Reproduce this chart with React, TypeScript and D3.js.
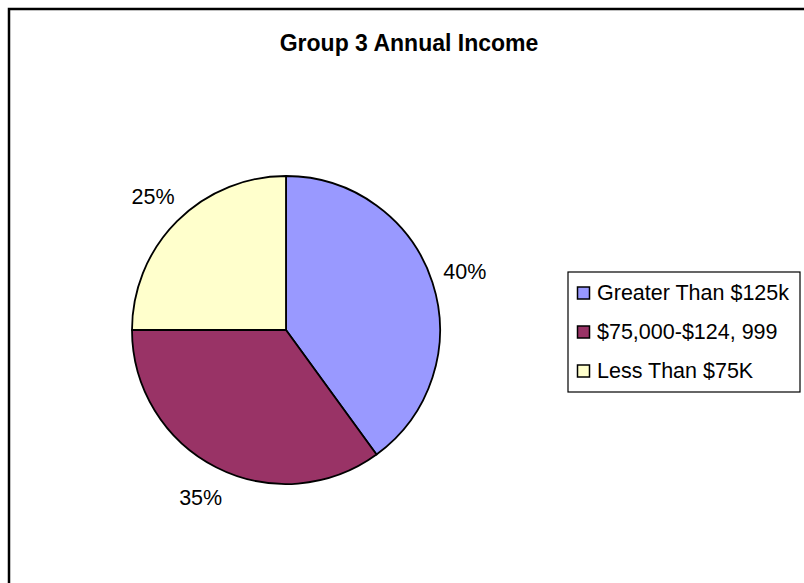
import React from "react";
import * as d3 from "d3";

const categories = ["Greater Than $125k", "$75,000-$124, 999", "Less Than $75K"];
const values = [40, 35, 25];
const labels = ["40%", "35%", "25%"];
const colors = ["#9999FF", "#993366", "#FFFFCC"];
const title = "Group 3 Annual Income";

const W = 804;
const H = 583;
const cx = 286;
const cy = 330;
const R = 154;
const labelR = 188;
const font = "'Liberation Sans', Arial, sans-serif";

export default function App() {
  const pie = d3.pie<number>().sort(null).startAngle(0).endAngle(2 * Math.PI)(values);
  const arc = d3.arc<d3.PieArcDatum<number>>().innerRadius(0).outerRadius(R);
  const labelArc = d3.arc<d3.PieArcDatum<number>>().innerRadius(labelR).outerRadius(labelR);

  const legendX = 568;
  const legendY = 272;
  const rowH = 39;
  const legendW = 232;
  const legendH = rowH * categories.length + 3;

  return (
    <svg
      width={W}
      height={H}
      style={{ position: "absolute", left: 0, top: 0, background: "#fff" }}
      fontFamily={font}
    >
      <rect x={0} y={0} width={W} height={H} fill="#fff" />
      <path d={`M9,${H + 5} L9,9 L${W + 5},9`} fill="none" stroke="#000" strokeWidth={2.5} />
      <text x={409} y={43} textAnchor="middle" dominantBaseline="central" fontSize={23} fontWeight="bold">
        {title}
      </text>
      <g transform={`translate(${cx},${cy})`}>
        {pie.map((d, i) => (
          <path key={i} d={arc(d) || ""} fill={colors[i]} stroke="#000" strokeWidth={1.8} strokeLinejoin="round" />
        ))}
        {pie.map((d, i) => {
          const [x, y] = labelArc.centroid(d);
          return (
            <text key={"l" + i} x={x} y={y} textAnchor="middle" dominantBaseline="central" fontSize={21.5}>
              {labels[i]}
            </text>
          );
        })}
      </g>
      <g transform={`translate(${legendX},${legendY})`}>
        <rect x={0} y={0} width={legendW} height={legendH} fill="#fff" stroke="#000" strokeWidth={1.2} />
        {categories.map((c, i) => {
          const yc = 21 + i * rowH;
          return (
            <g key={c}>
              <rect x={9.5} y={yc - 6} width={12} height={12} fill={colors[i]} stroke="#000" strokeWidth={1.5} />
              <text x={29} y={yc} dominantBaseline="central" fontSize={21.5}>
                {c}
              </text>
            </g>
          );
        })}
      </g>
    </svg>
  );
}
